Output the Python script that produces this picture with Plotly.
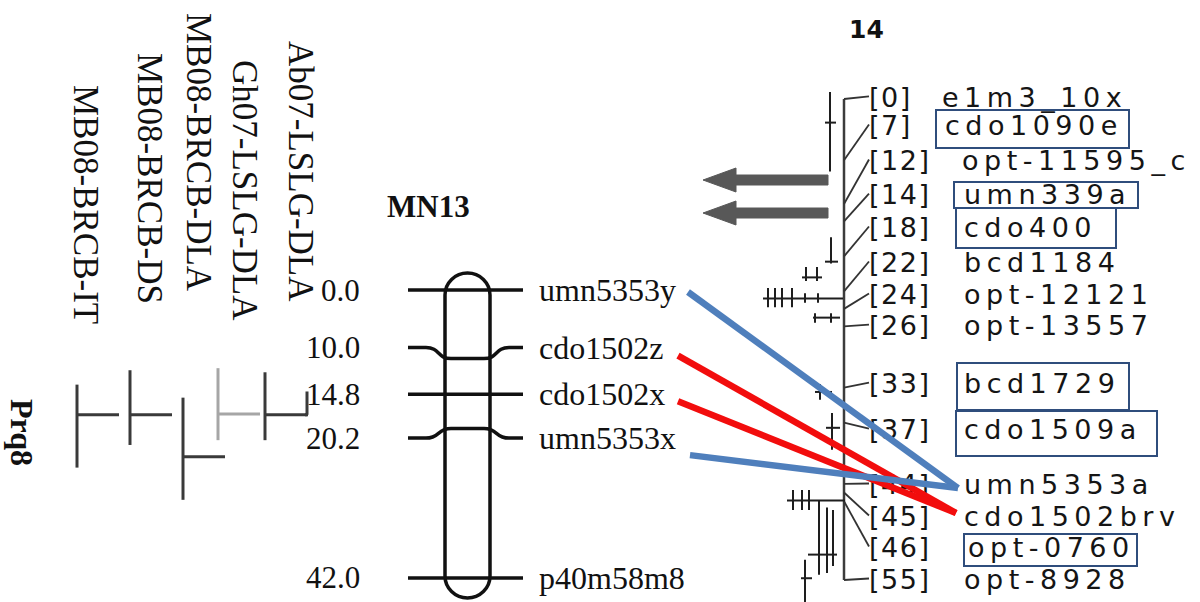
import plotly.graph_objects as go

# ---------------- data ----------------
# MN13 linkage group (cM)
mn13_markers = ["umn5353y", "cdo1502z", "cdo1502x", "umn5353x", "p40m58m8"]
mn13_pos = [0.0, 10.0, 14.8, 20.2, 42.0]
mn13_pos_text = ["0.0", "10.0", "14.8", "20.2", "42.0"]

# QTL intervals projected on MN13 (cM)
qtl_names = ["MB08-BRCB-IT", "MB08-BRCB-DS", "MB08-BRCB-DLA", "Gh07-LSLG-DLA", "Ab07-LSLG-DLA"]
qtl_start = [13.8, 11.7, 15.7, 11.4, 12.0]
qtl_peak = [18.2, 18.2, 24.3, 18.1, 18.2]
qtl_end = [25.9, 22.6, 30.6, 21.9, 21.9]

# consensus chromosome 14 (cM)
chr14_markers = ["e1m3_10x", "cdo1090e", "opt-11595_c", "umn339a", "cdo400", "bcd1184",
                 "opt-12121", "opt-13557", "bcd1729", "cdo1509a", "umn5353a",
                 "cdo1502brv", "opt-0760", "opt-8928"]
chr14_pos = [0, 7, 12, 14, 18, 22, 24, 26, 33, 37, 44, 45, 46, 55]
chr14_boxed = ["cdo1090e", "umn339a", "cdo400", "bcd1729", "cdo1509a", "opt-0760"]

# marker pairs linking MN13 to chromosome 14
links = [("cdo1502z", "cdo1502brv", "red"), ("cdo1502x", "cdo1502brv", "red"),
         ("umn5353y", "umn5353a", "blue"), ("umn5353x", "umn5353a", "blue")]

# QTL glyphs beside chromosome 14: vertical bars (x, start cM, end cM) and ticks (x0, x1, cM)
chr14_qtl_bars = [(830, -0.8, 8.3), (831, 15.8, 18.8), (806, 19.2, 20.8), (817, 19.2, 20.8),
                  (768, 21.6, 23.8), (775, 21.6, 23.8), (782, 21.6, 23.8), (792, 21.6, 23.8),
                  (805, 22.2, 23.3), (818, 22.2, 23.3), (815, 24.5, 25.6), (831, 24.5, 25.6),
                  (820, 32.6, 34.4), (832, 35.9, 40.1), (793, 44.7, 47.0), (802, 44.7, 47.0),
                  (809, 44.7, 47.0), (819, 45.9, 54.4), (827, 46.7, 54.2), (833, 47.0, 53.4),
                  (805, 52.7, 58.5)]
chr14_qtl_ticks = [(825, 836, 2.7), (825, 838, 18.6), (802, 822, 20.4), (763, 843, 22.8),
                   (813, 840, 25.0), (815, 832, 33.5), (826, 840, 37.6), (787, 845, 45.9),
                   (808, 837, 52.1), (801, 812, 54.8)]

# ---------------- layout constants ----------------
W, H = 1200, 602
MN13_PX0, MN13_SCALE = 290.0, 6.857      # pixel of 0 cM, pixels per cM
CHR14_PX0, CHR14_SCALE = 99.0, 8.745

def mn13_px(cm):
    return MN13_PX0 + cm * MN13_SCALE

def chr14_px(cm):
    return CHR14_PX0 + cm * CHR14_SCALE

SERIF = "Liberation Serif"
SANS = "DejaVu Sans"
INK = "#111111"
TXT14 = "#151515"

# label positions (axis units) after spreading
MN13_LABEL_Y = [0.0, 8.4, 15.2, 21.6, 42.0]
CHR14_LABEL_Y = [0.11, 3.32, 7.32, 11.21, 14.98, 18.98, 22.64, 26.19,
                 32.82, 38.08, 44.37, 48.03, 51.57, 55.23]
CHR14_NAME_X = {"e1m3_10x": 942, "cdo1090e": 945, "opt-11595_c": 962, "opt-0760": 968}
BOXES = {"cdo1090e": (936, 1129, 110, 148), "umn339a": (954, 1138, 182, 208),
         "cdo400": (956, 1116, 208, 248), "bcd1729": (957, 1129, 363, 410),
         "cdo1509a": (956, 1157, 411, 456), "opt-0760": (964, 1137, 534, 566)}
LINK_GEOM = {("cdo1502z", "cdo1502brv"): (678, 8, 956, -6),
             ("cdo1502x", "cdo1502brv"): (678, 7, 956, -6),
             ("umn5353y", "umn5353a"): (688, 2, 958, 1),
             ("umn5353x", "umn5353a"): (690, 17, 958, 1)}
LINK_COLORS = {"red": "#f20d0d", "blue": "#4f7fbc"}

shapes = []
annotations = []
fig = go.Figure()

# ---------------- MN13 chromosome ----------------
cx_l, cx_r = 445, 490
top_cm = (273 - MN13_PX0) / MN13_SCALE
bot_cm = (598 - MN13_PX0) / MN13_SCALE
ry = 22 / MN13_SCALE
k = 0.5523
cx = (cx_l + cx_r) / 2
rx = (cx_r - cx_l) / 2
s = top_cm + ry
e = bot_cm - ry
path = (f"M {cx_l},{s} C {cx_l},{s - k*ry} {cx - k*rx},{top_cm} {cx},{top_cm} "
        f"C {cx + k*rx},{top_cm} {cx_r},{s - k*ry} {cx_r},{s} L {cx_r},{e} "
        f"C {cx_r},{e + k*ry} {cx + k*rx},{bot_cm} {cx},{bot_cm} "
        f"C {cx - k*rx},{bot_cm} {cx_l},{e + k*ry} {cx_l},{e} Z")
shapes.append(dict(type="path", path=path, xref="x", yref="y2",
                   line=dict(color=INK, width=3.5), fillcolor="rgba(0,0,0,0)"))

for name, pos, lab_y, txt in zip(mn13_markers, mn13_pos, MN13_LABEL_Y, mn13_pos_text):
    if abs(lab_y - pos) < 0.5:
        p = f"M 408,{lab_y} L 523,{lab_y}"
    else:
        p = (f"M 408,{lab_y} L 426,{lab_y} C 440,{lab_y} 437,{pos} 451,{pos} "
             f"L 484,{pos} C 498,{pos} 495,{lab_y} 509,{lab_y} L 523,{lab_y}")
    shapes.append(dict(type="path", path=p, xref="x", yref="y2",
                       line=dict(color=INK, width=3.5)))
    annotations.append(dict(x=537, y=lab_y, xref="x", yref="y2", text=name,
                            showarrow=False, xanchor="left", yanchor="middle",
                            font=dict(family=SERIF, size=32, color=INK)))
    annotations.append(dict(x=362, y=lab_y, xref="x", yref="y2", text=txt,
                            showarrow=False, xanchor="right", yanchor="middle",
                            font=dict(family=SERIF, size=31, color=INK)))

annotations.append(dict(x=428, y=206, xref="x", yref="y", text="<b>MN13</b>",
                        showarrow=False, font=dict(family=SERIF, size=31, color=INK)))

# ---------------- QTL intervals beside MN13 ----------------
qtl_x = [77, 130, 183, 218, 265]
qtl_label_x = [86, 150, 199, 245, 301]
qtl_label_y = [204, 178, 152, 190, 171]
qtl_colors = ["#3a3a3a", "#3a3a3a", "#3a3a3a", "#a6a6a6", "#3a3a3a"]
for i, name in enumerate(qtl_names):
    x0 = qtl_x[i]
    shapes.append(dict(type="line", xref="x", yref="y2", x0=x0, x1=x0,
                       y0=qtl_start[i], y1=qtl_end[i], line=dict(color=qtl_colors[i], width=3)))
    shapes.append(dict(type="line", xref="x", yref="y2", x0=x0, x1=x0 + 42,
                       y0=qtl_peak[i], y1=qtl_peak[i], line=dict(color=qtl_colors[i], width=3)))
    annotations.append(dict(x=qtl_label_x[i], y=qtl_label_y[i], xref="x", yref="y", text=name,
                            textangle=90, showarrow=False,
                            font=dict(family=SERIF, size=35, color=INK)))
# bracket joining the last interval to the 14.8 cM marker
shapes.append(dict(type="line", xref="x", yref="y2", x0=307, x1=307,
                   y0=qtl_peak[4], y1=mn13_pos[2], line=dict(color="#3a3a3a", width=3)))
shapes.append(dict(type="line", xref="x", yref="y2", x0=qtl_x[4] + 40, x1=308,
                   y0=qtl_peak[4], y1=qtl_peak[4], line=dict(color="#3a3a3a", width=3)))

annotations.append(dict(x=22, y=432, xref="x", yref="y", text="<b>Prq8</b>", textangle=90,
                        showarrow=False, font=dict(family=SERIF, size=32, color=INK)))

# ---------------- chromosome 14 ----------------
annotations.append(dict(x=866, y=29, xref="x", yref="y", text="<b>14</b>", showarrow=False,
                        font=dict(family=SANS, size=25, color=INK)))
shapes.append(dict(type="line", xref="x", yref="y3", x0=844, x1=844,
                   y0=chr14_pos[0], y1=chr14_pos[-1], line=dict(color="#3c3c3c", width=2.5)))
for pos, lab_y in zip(chr14_pos, CHR14_LABEL_Y):
    shapes.append(dict(type="line", xref="x", yref="y3", x0=844, x1=869,
                       y0=pos, y1=lab_y - 0.4, line=dict(color="#333333", width=1.8)))

for x0, a, b in chr14_qtl_bars:
    shapes.append(dict(type="line", xref="x", yref="y3", x0=x0, x1=x0, y0=a, y1=b,
                       line=dict(color="#1e1e1e", width=2)))
for x0, x1, c in chr14_qtl_ticks:
    shapes.append(dict(type="line", xref="x", yref="y3", x0=x0, x1=x1, y0=c, y1=c,
                       line=dict(color="#1e1e1e", width=2)))

# position brackets and marker names
bracket_text = [f"<span style='letter-spacing:1.5px'>[{p}]</span>" for p in chr14_pos]
fig.add_trace(go.Scatter(x=[869] * len(chr14_pos), y=CHR14_LABEL_Y, yaxis="y3",
                         mode="text", text=bracket_text, textposition="middle right",
                         textfont=dict(family=SANS, size=27, color=TXT14),
                         hoverinfo="skip", showlegend=False))
name_x = [CHR14_NAME_X.get(m, 964) for m in chr14_markers]
name_text = [f"<span style='letter-spacing:5.5px'>{m}</span>" for m in chr14_markers]
fig.add_trace(go.Scatter(x=name_x, y=CHR14_LABEL_Y, yaxis="y3",
                         mode="text", text=name_text, textposition="middle right",
                         textfont=dict(family=SANS, size=27, color=TXT14),
                         hoverinfo="skip", showlegend=False))

for m in chr14_boxed:
    bx0, bx1, by0, by1 = BOXES[m]
    shapes.append(dict(type="rect", xref="x", yref="y", x0=bx0, x1=bx1, y0=by0, y1=by1,
                       line=dict(color="#2f4d7c", width=2), fillcolor="rgba(0,0,0,0)"))

# left-pointing arrows
for yc in (180, 213):
    p = (f"M 828,{yc-5} L 736,{yc-5} L 736,{yc-12} L 703,{yc} L 736,{yc+12} "
         f"L 736,{yc+5} L 828,{yc+5} Z")
    shapes.append(dict(type="path", xref="x", yref="y", path=p,
                       fillcolor="#585858", line=dict(color="#585858", width=1)))

# ---------------- links between maps ----------------
for a, b, col in links:
    sx, soff, ex, eoff = LINK_GEOM[(a, b)]
    y0 = mn13_px(MN13_LABEL_Y[mn13_markers.index(a)]) + soff
    y1 = chr14_px(CHR14_LABEL_Y[chr14_markers.index(b)]) + eoff
    shapes.append(dict(type="line", xref="x", yref="y", x0=sx, x1=ex, y0=y0, y1=y1,
                       line=dict(color=LINK_COLORS[col], width=6.5), layer="above"))

fig.update_layout(
    width=W, height=H, margin=dict(l=0, r=0, t=0, b=0),
    paper_bgcolor="white", plot_bgcolor="white",
    xaxis=dict(range=[0, W], visible=False, fixedrange=True),
    yaxis=dict(range=[H, 0], visible=False, fixedrange=True),
    yaxis2=dict(range=[(H - MN13_PX0) / MN13_SCALE, -MN13_PX0 / MN13_SCALE],
                overlaying="y", visible=False, fixedrange=True),
    yaxis3=dict(range=[(H - CHR14_PX0) / CHR14_SCALE, -CHR14_PX0 / CHR14_SCALE],
                overlaying="y", visible=False, fixedrange=True),
    shapes=shapes, annotations=annotations, showlegend=False,
)
fig.write_html("out.html")
